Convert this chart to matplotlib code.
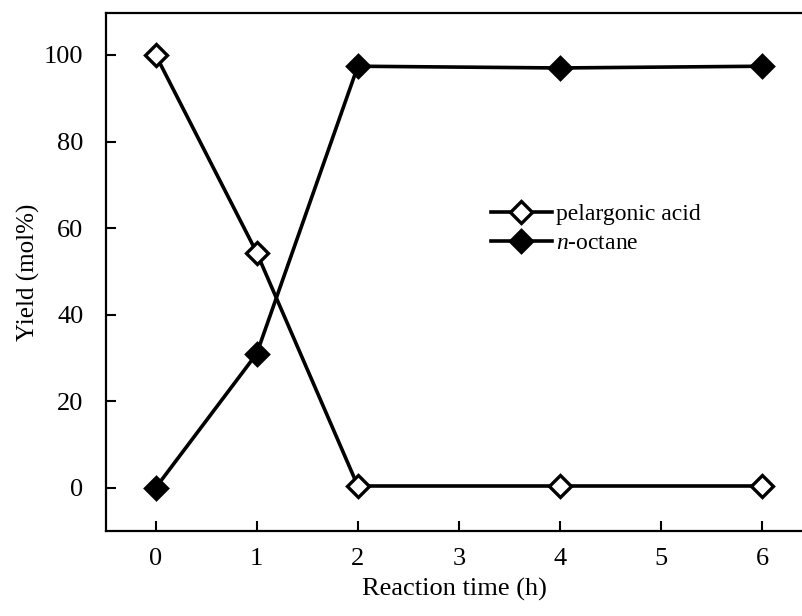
import matplotlib
matplotlib.use("Agg")
import matplotlib.pyplot as plt

plt.rcParams['font.family'] = ['Liberation Serif', 'DejaVu Serif']
plt.rcParams['mathtext.fontset'] = 'custom'
plt.rcParams['mathtext.rm'] = 'Liberation Serif'
plt.rcParams['mathtext.it'] = 'Liberation Serif:italic'

# Reaction time (h) and yields (mol%)
time_h = [0, 1, 2, 4, 6]
pelargonic_acid = [100, 54.3, 0.4, 0.4, 0.4]
n_octane = [0, 31.0, 97.4, 97.0, 97.4]
x_ticks = [0, 1, 2, 3, 4, 5, 6]
y_ticks = [0, 20, 40, 60, 80, 100]

fig = plt.figure(figsize=(8.03, 6.16), dpi=100)
ax = fig.add_axes([105.7 / 803, 1 - 531 / 616, 1 - 105.7 / 803, (531 - 13) / 616])

ax.plot(time_h, pelargonic_acid, color='black', lw=2.6, marker='D', ms=11,
        mfc='white', mec='black', mew=2.4, label='pelargonic acid', zorder=3)
ax.plot(time_h, n_octane, color='black', lw=2.6, marker='D', ms=11,
        mfc='black', mec='black', mew=2.4, label=r'$\it{n}$-octane', zorder=3)

ax.set_xlim(-0.495, 6.406)
ax.set_ylim(-10.0, 109.7)
ax.set_xticks(x_ticks)
ax.set_yticks(y_ticks)
ax.tick_params(direction='in', length=7, width=1.5, labelsize=19)
ax.tick_params(axis='y', pad=16)
ax.tick_params(axis='x', pad=12)
for side in ['left', 'bottom', 'top']:
    ax.spines[side].set_linewidth(1.6)
ax.spines['right'].set_visible(False)

ax.set_xlabel('Reaction time (h)', fontsize=19, labelpad=6)
ax.set_ylabel('Yield (mol%)', fontsize=18, labelpad=3)

ax.legend(loc='center left', bbox_to_anchor=(0.552, 0.583), frameon=False,
          fontsize=17, handlelength=2.6, handletextpad=0.15, labelspacing=0.3,
          borderaxespad=0, borderpad=0)

fig.savefig('out.png', dpi=100)
